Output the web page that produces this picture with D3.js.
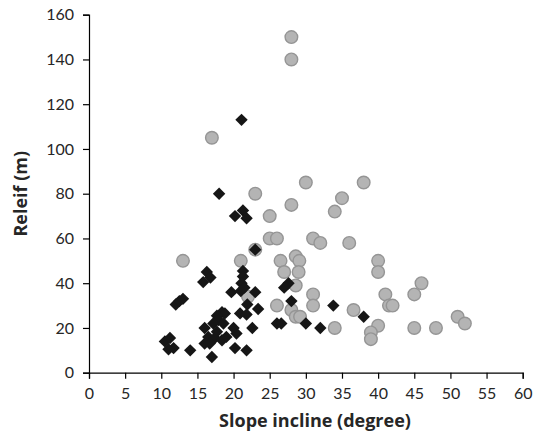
<!DOCTYPE html>
<html>
<head>
<meta charset="utf-8">
<script src="https://cdn.jsdelivr.net/npm/d3@7"></script>
<style>
  html, body { margin: 0; padding: 0; background: #fff; }
  svg { display: block; }
  .tick text { font-family: Lato, "Open Sans", sans-serif; font-size: 16px; fill: #262626; }
  .title { font-family: "Open Sans", Lato, sans-serif; font-weight: bold; fill: #262626; }
</style>
</head>
<body>
<svg id="chart" width="540" height="438"></svg>
<script>
// Slope incline (degree) vs relief (m) — two groups of sites
const circleX = [28, 28, 17, 23, 30, 38, 35, 28, 34, 25, 25, 26, 31, 32, 36, 23,
  13, 21, 26.5, 28.6, 29.1, 40, 40, 27, 29, 46, 28.6, 45, 41, 31, 31, 41.5, 42,
  26, 28, 28.6, 29.2, 36.6, 40, 39, 39, 34, 45, 48, 51, 52, 22];
const circleY = [150, 140, 105, 80, 85, 85, 78, 75, 72, 70, 60, 60, 60, 58, 58, 55,
  50, 50, 50, 52, 50, 50, 45, 45, 45, 40, 39, 35, 35, 35, 30, 30, 30,
  30, 28, 25, 25, 28, 21, 18, 15, 20, 20, 20, 25, 22, 34];

const diamondX = [21.1, 18, 20.2, 21.3, 21.8, 23, 16.3, 16.8, 15.8, 12, 12.5, 13,
  21.3, 21.3, 21.1, 21.5, 19.7, 21, 23, 21.9, 23.4, 20.9, 21.8, 22.6, 21.8, 20.4,
  20.2, 20, 18.4, 18.8, 17.7, 17.9, 17.2, 18.6, 16, 17.7, 16.5, 17.4, 18.4, 19,
  16, 16.7, 17, 14, 10.5, 11.2, 11.7, 11, 27, 27.6, 28, 33.8, 38, 26, 26.6, 30, 32];
const diamondY = [113, 80, 70, 72.5, 69, 55, 45, 42.5, 40.5, 30.5, 32, 33,
  45.5, 43, 40, 38, 36, 36.5, 36, 30.5, 28.5, 26.5, 26, 20, 10, 17.5,
  11, 20, 27, 26.5, 25.5, 23.5, 22, 22, 20, 18.3, 16, 15.5, 14.5, 16,
  13, 13, 7, 10, 14, 15.5, 11, 10.5, 38, 40, 32, 30, 25, 22, 22, 22, 20];

const xTicks = [0, 5, 10, 15, 20, 25, 30, 35, 40, 45, 50, 55, 60];
const yTicks = [0, 20, 40, 60, 80, 100, 120, 140, 160];

const svg = d3.select("#chart");
const plotLeft = 89, plotRight = 522.7, plotTop = 14.7, plotBottom = 372.7;

const x = d3.scaleLinear().domain([0, 60]).range([plotLeft, plotRight]);
const y = d3.scaleLinear().domain([0, 160]).range([plotBottom, plotTop]);

// axes
const xAxis = svg.append("g")
  .attr("transform", `translate(0,${plotBottom})`)
  .call(d3.axisBottom(x).tickValues(xTicks).tickSize(6).tickPadding(9));
const yAxis = svg.append("g")
  .attr("transform", `translate(${plotLeft},0)`)
  .call(d3.axisLeft(y).tickValues(yTicks).tickSize(6).tickPadding(9));
[xAxis, yAxis].forEach(g => {
  g.select(".domain").attr("stroke", "#000").attr("stroke-width", 1.2);
  g.selectAll(".tick line").attr("stroke", "#000").attr("stroke-width", 1.2);
});

// grey circles
const circles = circleX.map((v, i) => [v, circleY[i]]);
svg.append("g").selectAll("circle").data(circles).join("circle")
  .attr("cx", d => x(d[0]))
  .attr("cy", d => y(d[1]))
  .attr("r", 6.3)
  .attr("fill", "#b4b4b4")
  .attr("stroke", "#959595")
  .attr("stroke-width", 1.4);

// black diamonds
const diamonds = diamondX.map((v, i) => [v, diamondY[i]]);
const diamondPath = d3.symbol().type(d3.symbolDiamond2).size(98);
svg.append("g").selectAll("path").data(diamonds).join("path")
  .attr("transform", d => `translate(${x(d[0])},${y(d[1])})`)
  .attr("d", diamondPath)
  .attr("fill", "#161616");

// axis titles
svg.append("text").attr("class", "title")
  .attr("x", 315).attr("y", 427)
  .attr("text-anchor", "middle")
  .attr("font-size", 18)
  .text("Slope incline (degree)");

svg.append("text").attr("class", "title")
  .attr("transform", `translate(27,${(plotTop + plotBottom) / 2}) rotate(-90)`)
  .attr("text-anchor", "middle")
  .attr("font-size", 18)
  .text("Releif (m)");
</script>
</body>
</html>
